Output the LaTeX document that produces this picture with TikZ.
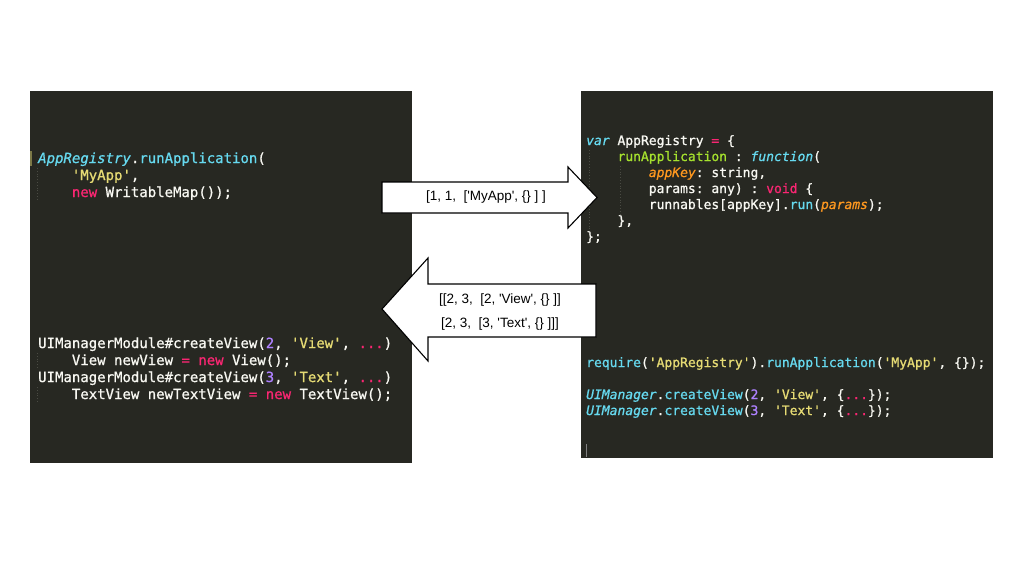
\documentclass[tikz,border=0pt]{standalone}
\usepackage{fontspec}
\setmainfont{Liberation Sans}
\setmonofont{DejaVu Sans Mono}[FakeBold=0.9]
\usetikzlibrary{positioning}

\definecolor{codebg}{HTML}{272822}
\definecolor{codefg}{HTML}{F8F8F2}
\definecolor{codecyan}{HTML}{66D9EF}
\definecolor{codeyellow}{HTML}{E6DB74}
\definecolor{codepink}{HTML}{F92672}
\definecolor{codepurple}{HTML}{AE81FF}
\definecolor{codeorange}{HTML}{FD971F}
\definecolor{codegreen}{HTML}{A6E22E}
\definecolor{codeguide}{HTML}{4A4B43}

\newcommand{\ccy}[1]{\textcolor{codecyan}{#1}}
\newcommand{\ccyi}[1]{\textcolor{codecyan}{\itshape #1}}
\newcommand{\ckw}[1]{\textcolor{codepink}{#1}}
\newcommand{\cstr}[1]{\textcolor{codeyellow}{#1}}
\newcommand{\cnum}[1]{\textcolor{codepurple}{#1}}
\newcommand{\corg}[1]{\textcolor{codeorange}{\itshape #1}}
\newcommand{\cgrn}[1]{\textcolor{codegreen}{#1}}
\newcommand{\ind}{\phantom{0000}}
\newcommand{\sq}{\textquotesingle}

\tikzset{
    panel/.style={fill=codebg},
    lcode/.style={anchor=base west, inner sep=0pt, text=codefg,
        font=\ttfamily\frenchspacing\fontsize{14}{17}\selectfont},
    rcode/.style={lcode, font=\ttfamily\frenchspacing\fontsize{13}{16}\selectfont},
    msg/.style={inner sep=0pt, font=\fontsize{13.5}{15}\selectfont},
    bigarrow/.style={draw=black, fill=white, line width=1.1pt, line join=miter},
    guide/.style={codeguide, dotted, line width=0.8pt}
}

\begin{document}
\begin{tikzpicture}[x=1pt, y=-1pt]
    \useasboundingbox (0,0) rectangle (1024,576);
    \fill[white] (0,0) rectangle (1024,576);
    \fill[panel] (30,91) rectangle (412,463);
    \fill[panel] (581,91) rectangle (993,458);

    \draw[guide] (37,168) -- (37,200);
    \draw[guide] (37,353) -- (37,368);
    \draw[guide] (37,387) -- (37,402);
    \draw[guide] (589,150) -- (589,230);
    \draw[guide] (620,166) -- (620,214);
    \draw[codeyellow!45!codebg, line width=1.5pt] (31,151) -- (31,166);
    \draw[gray, line width=1pt] (586,444) -- (586,457);

    \node[lcode] (a1) at (38,163) {\ccyi{AppRegistry}.\ccy{runApplication}(};
    \node[lcode] (a2) at (38,180) {\ind\cstr{'MyApp'},};
    \node[lcode] (a3) at (38,197) {\ind\ckw{new} WritableMap());};

    \node[lcode] (u1) at (38,348) {UIManagerModule\#createView(\cnum{2}, \cstr{'View'}, \ckw{...})};
    \node[lcode] (u2) at (38,365) {\ind View newView \ckw{=} \ckw{new} View();};
    \node[lcode] (u3) at (38,382) {UIManagerModule\#createView(\cnum{3}, \cstr{'Text'}, \ckw{...})};
    \node[lcode] (u4) at (38,399) {\ind TextView newTextView \ckw{=} \ckw{new} TextView();};

    \node[rcode] (r1) at (586,145) {\ccyi{var} AppRegistry \ckw{=} \{};
    \node[rcode] (r2) at (586,161) {\ind\cgrn{runApplication} : \ccyi{function}(};
    \node[rcode] (r3) at (586,177) {\ind\ind\corg{appKey}: string,};
    \node[rcode] (r4) at (586,193) {\ind\ind params: any) : \ckw{void} \{};
    \node[rcode] (r5) at (586,209) {\ind\ind runnables[appKey].\ccy{run}(\corg{params});};
    \node[rcode] (r6) at (586,225) {\ind\},};
    \node[rcode] (r7) at (586,241) {\};};

    \node[rcode] (q1) at (586,367) {\ccy{require}(\cstr{'AppRegistry'}).\ccy{runApplication}(\cstr{'MyApp'}, \{\});};
    \node[rcode] (q2) at (586,399) {\ccyi{UIManager}.\ccy{createView}(\cnum{2}, \cstr{'View'}, \{\ckw{...}\});};
    \node[rcode] (q3) at (586,415) {\ccyi{UIManager}.\ccy{createView}(\cnum{3}, \cstr{'Text'}, \{\ckw{...}\});};

    \draw[bigarrow] (382,182) -- (568,182) -- (568,167) -- (597,197.5)
        -- (568,228) -- (568,213) -- (382,213) -- cycle;
    \draw[bigarrow] (382,309) -- (428,258) -- (428,284) -- (596,284)
        -- (596,337) -- (428,337) -- (428,361) -- cycle;

    \node[msg] (m) at (486,197) {[1, 1,\ \ [\sq MyApp\sq, \{\} ] ]};
    \node[msg] (n1) at (500,300) {[[2, 3,\ \ [2, \sq View\sq, \{\} ]]};
    \node[msg, below=11pt of n1] (n2) {[2, 3,\ \ [3, \sq Text\sq, \{\} ]]]};
\end{tikzpicture}
\end{document}
